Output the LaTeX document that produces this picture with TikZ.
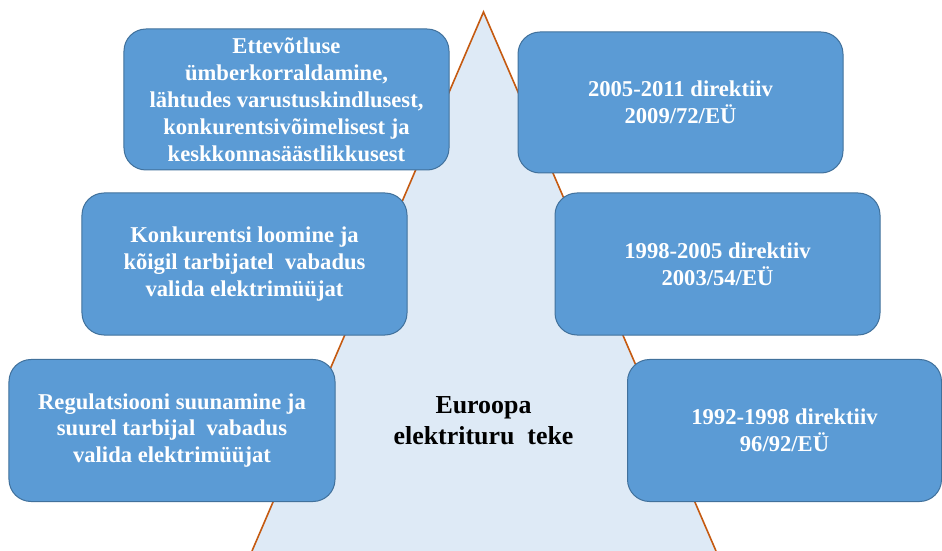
\documentclass[tikz,border=0pt]{standalone}
\usepackage{fontspec}
\setmainfont{Liberation Serif}
\definecolor{boxfill}{HTML}{5B9BD5}
\definecolor{boxline}{HTML}{41719C}
\definecolor{trifill}{HTML}{DEEAF6}
\definecolor{triline}{HTML}{C55A11}
\tikzset{
  infobox/.style={draw=boxline, line width=1bp, fill=boxfill, rounded corners=22bp,
    text=white, align=center, inner sep=0pt,
    font=\fontsize{22.7}{27}\selectfont\bfseries},
  centertext/.style={align=center, inner sep=0pt, text=black,
    font=\fontsize{26}{31}\selectfont\bfseries}
}
\begin{document}
\begin{tikzpicture}[x=1bp,y=-1bp]
\useasboundingbox (0,0) rectangle (942,551);
% triangle
\coordinate (apex) at (483.5,12);
\coordinate (bl) at (252,551);
\coordinate (br) at (716,551);
\fill[trifill] (bl) -- (apex) -- (br) -- cycle;
\draw[draw=triline, line width=1.6bp, line join=miter] (bl) -- (apex) -- (br);
% boxes
\node[infobox, minimum width=325bp, minimum height=141bp] (b1) at (286.5,99.5)
  {Ettevõtluse\\ümberkorraldamine,\\lähtudes varustuskindlusest,\\konkurentsivõimelisest ja\\keskkonnasäästlikkusest};
\node[infobox, minimum width=325bp, minimum height=141bp] (b2) at (680.5,102.5)
  {2005-2011 direktiiv\\2009/72/EÜ};
\node[infobox, minimum width=325bp, minimum height=142bp] (b3) at (244.5,264)
  {Konkurentsi loomine ja\\kõigil tarbijatel\ \ vabadus\\valida elektrimüüjat};
\node[infobox, minimum width=325bp, minimum height=142bp] (b4) at (717.5,264)
  {1998-2005 direktiiv\\2003/54/EÜ};
\node[infobox, minimum width=326bp, minimum height=142bp] (b5) at (172,430.5)
  {Regulatsiooni suunamine ja\\suurel tarbijal\ \ vabadus\\valida elektrimüüjat};
\node[infobox, minimum width=314bp, minimum height=142bp] (b6) at (784.5,430.5)
  {1992-1998 direktiiv\\96/92/EÜ};
\node[centertext] (c) at (483.5,421) {Euroopa\\elektrituru\ \ teke};
\end{tikzpicture}
\end{document}
